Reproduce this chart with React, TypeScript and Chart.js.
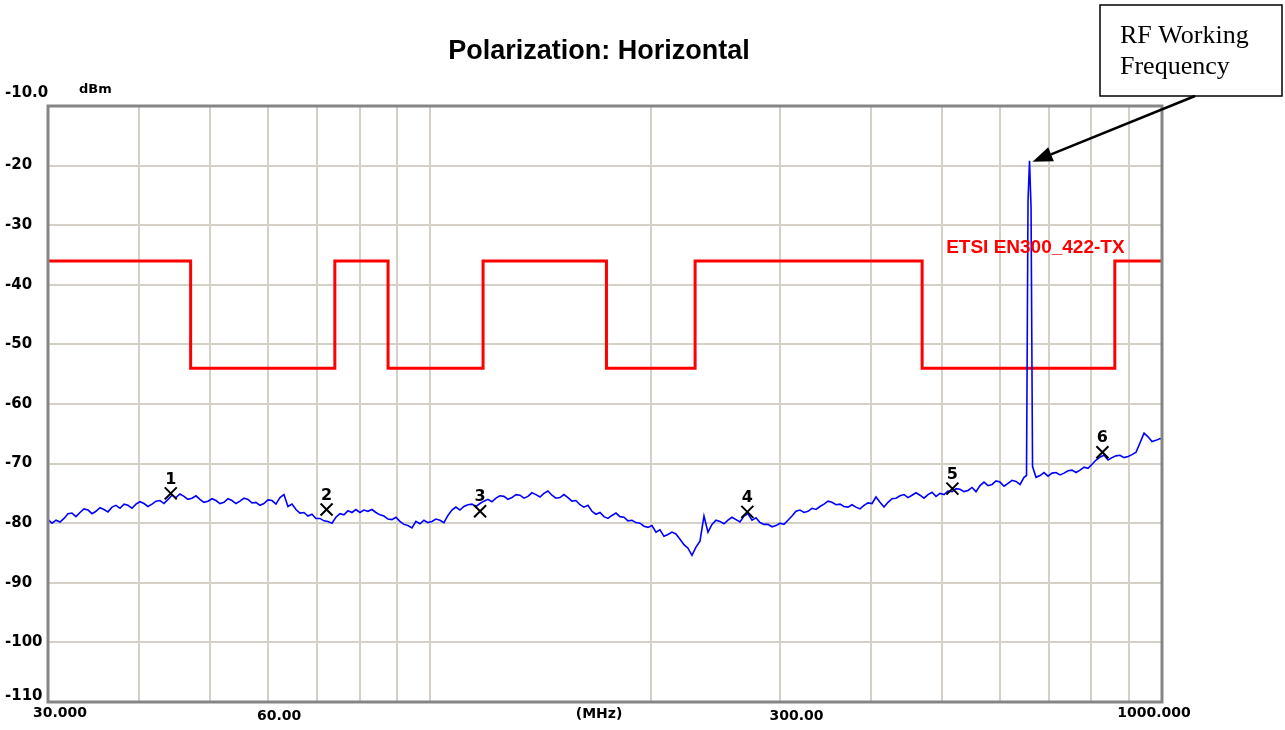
import { useEffect, useRef } from "react";
import { Chart, registerables } from "chart.js";

Chart.register(...registerables);

// ---------------- data ----------------
const yTickValues = [-10, -20, -30, -40, -50, -60, -70, -80, -90, -100, -110];
const yTickLabels = ["-10.0", "-20", "-30", "-40", "-50", "-60", "-70", "-80", "-90", "-100", "-110"];

const xGridFreqs = [30, 40, 50, 60, 70, 80, 90, 100, 200, 300, 400, 500, 600, 700, 800, 900, 1000];
const xLabelTexts = ["30.000", "60.00", "(MHz)", "300.00", "1000.000"];
const xLabelFreqs = [30, 60, 170, 300, 1000];

// ETSI EN300_422-TX limit (MHz, dBm)
const limitFreq = [30, 47, 47, 74, 74, 87.5, 87.5, 118, 118, 174, 174, 230, 230, 470, 470, 862, 862, 1000];
const limitLevel = [-36, -36, -54, -54, -36, -36, -54, -54, -36, -36, -54, -54, -36, -36, -54, -54, -36, -36];

// markers
const markerFreq = [44.15, 72.1, 116.9, 271.1, 517, 829];
const markerLevel = [-75.0, -77.7, -78.0, -78.1, -74.2, -68.1];
const markerNames = ["1", "2", "3", "4", "5", "6"];

// RF working frequency peak
const rfFreq = 659.0;
const rfLevel = -19.2;

// measured trace [MHz, dBm]
const trace: [number, number][] = [
  [30.00, -79.4], [30.38, -80.0], [30.77, -79.5], [31.16, -79.8], [31.55, -79.2], [31.95, -78.4],
  [32.35, -78.3], [32.76, -78.9], [33.18, -78.2], [33.60, -77.6], [34.03, -77.8], [34.46, -78.4],
  [34.89, -78.0], [35.33, -77.4], [35.78, -77.7], [36.23, -78.1], [36.70, -77.3], [37.16, -77.0],
  [37.63, -77.5], [38.11, -76.8], [38.59, -77.0], [39.08, -77.5], [39.57, -76.8], [40.07, -76.4],
  [40.58, -76.7], [41.09, -77.2], [41.62, -76.8], [42.15, -76.3], [42.68, -76.2], [43.22, -76.7],
  [43.77, -76.0], [44.32, -75.3], [44.88, -75.7], [45.45, -75.1], [46.03, -75.5], [46.61, -76.0],
  [47.20, -75.8], [47.80, -75.4], [48.40, -76.0], [49.01, -76.5], [49.64, -76.3], [50.27, -75.9],
  [50.90, -76.2], [51.55, -76.7], [52.20, -76.5], [52.86, -75.9], [53.53, -76.2], [54.21, -76.7],
  [54.90, -76.3], [55.60, -75.8], [56.30, -76.0], [57.01, -76.6], [57.73, -76.5], [58.46, -77.0],
  [59.20, -76.7], [59.95, -76.1], [60.71, -76.2], [61.48, -76.8], [62.26, -75.7], [63.05, -75.2],
  [63.85, -77.2], [64.66, -76.8], [65.48, -77.7], [66.31, -78.3], [67.15, -78.2], [68.00, -78.8],
  [68.86, -78.5], [69.73, -79.2], [70.61, -79.2], [71.51, -79.6], [72.41, -79.7], [73.33, -80.0],
  [74.26, -79.0], [75.20, -78.4], [76.15, -78.6], [77.12, -77.9], [78.09, -78.2], [79.08, -77.7],
  [80.08, -78.2], [81.09, -77.8], [82.12, -78.0], [83.16, -77.7], [84.22, -78.2], [85.29, -78.6],
  [86.37, -78.8], [87.46, -79.3], [88.57, -79.4], [89.69, -79.0], [90.83, -79.7], [91.98, -80.2],
  [93.15, -80.4], [94.33, -80.8], [95.52, -79.7], [96.73, -80.1], [97.96, -79.5], [99.20, -79.9],
  [100.45, -79.7], [101.72, -79.3], [103.02, -79.5], [104.33, -79.9], [105.64, -78.7], [106.98, -77.8],
  [108.34, -77.3], [109.71, -77.8], [111.10, -77.2], [112.51, -76.9], [113.94, -76.8], [115.38, -77.2],
  [116.84, -76.7], [118.32, -76.3], [119.82, -76.0], [121.34, -76.4], [122.88, -75.8], [124.44, -75.4],
  [126.01, -75.5], [127.61, -76.0], [129.23, -75.7], [130.87, -75.2], [132.52, -75.3], [134.20, -75.8],
  [135.90, -75.5], [137.62, -74.9], [139.37, -75.2], [141.14, -75.6], [142.92, -75.0], [144.73, -74.6],
  [146.57, -75.3], [148.43, -75.8], [150.31, -75.7], [152.21, -75.2], [154.14, -75.7], [156.09, -76.3],
  [158.07, -76.2], [160.07, -76.9], [162.10, -77.3], [164.15, -77.0], [166.24, -78.0], [168.35, -78.5],
  [170.48, -78.2], [172.64, -78.9], [174.83, -79.2], [177.05, -78.7], [179.29, -78.3], [181.56, -78.9],
  [183.86, -79.0], [186.19, -79.6], [188.55, -79.5], [190.94, -79.9], [193.36, -80.0], [195.81, -80.5],
  [198.29, -80.7], [200.80, -80.4], [203.35, -81.5], [205.93, -81.1], [208.53, -82.2], [211.17, -81.9],
  [213.85, -81.5], [216.56, -81.8], [219.31, -82.7], [222.09, -83.6], [224.90, -84.2], [227.75, -85.4],
  [230.64, -84.0], [233.56, -83.0], [236.52, -78.8], [239.52, -81.5], [242.55, -80.2], [245.62, -79.5],
  [248.74, -79.7], [251.89, -80.1], [255.08, -79.5], [258.31, -79.0], [261.59, -79.4], [264.90, -79.8],
  [268.26, -78.8], [271.66, -78.4], [275.10, -79.5], [278.59, -79.1], [282.12, -79.9], [285.69, -80.2],
  [289.32, -80.2], [292.99, -80.6], [296.70, -80.4], [300.46, -80.0], [304.26, -80.2], [308.11, -79.5],
  [312.02, -78.8], [315.97, -78.0], [319.98, -77.8], [324.04, -78.2], [328.14, -78.0], [332.30, -77.5],
  [336.51, -77.7], [340.77, -77.2], [345.10, -76.8], [349.47, -76.3], [353.90, -76.5], [358.38, -76.9],
  [362.92, -76.8], [367.52, -77.2], [372.18, -77.3], [376.90, -76.9], [381.67, -77.3], [386.51, -77.6],
  [391.41, -77.0], [396.37, -76.6], [401.39, -76.7], [406.48, -75.6], [411.63, -76.5], [416.85, -77.3],
  [422.13, -76.5], [427.48, -75.9], [432.90, -75.8], [438.38, -75.4], [443.94, -75.2], [449.56, -75.7],
  [455.26, -75.3], [461.03, -74.9], [466.87, -75.3], [472.78, -75.8], [478.78, -75.2], [484.85, -74.8],
  [490.99, -75.5], [497.21, -75.0], [503.51, -75.2], [509.89, -74.6], [516.35, -74.7], [522.89, -74.2],
  [529.52, -74.3], [536.23, -74.7], [543.03, -74.5], [549.91, -74.0], [556.88, -74.7], [563.93, -73.7],
  [571.08, -73.1], [578.32, -73.7], [585.65, -73.5], [593.07, -72.9], [600.58, -73.1], [608.19, -73.8],
  [615.90, -73.3], [623.70, -72.8], [631.61, -73.0], [639.61, -73.5], [647.72, -72.3], [652.8, -72.0],
  [655.9, -26.0], [659.0, -19.2], [662.2, -27.0], [665.3, -70.5], [672.66, -72.3], [681.18, -72.0],
  [689.81, -71.5], [698.55, -72.1], [707.40, -71.6], [716.37, -71.5], [725.45, -71.9], [734.64, -71.6],
  [743.95, -71.2], [753.38, -71.1], [762.92, -71.5], [772.59, -71.1], [782.38, -70.6], [792.30, -70.8],
  [802.34, -70.1], [812.51, -69.4], [822.80, -68.9], [833.23, -68.6], [843.79, -69.4], [854.48, -69.0],
  [865.30, -68.7], [876.27, -68.6], [887.37, -69.0], [898.62, -68.8], [910.00, -68.5], [921.54, -68.1],
  [933.22, -66.5], [945.04, -64.9], [957.02, -65.5], [969.14, -66.3], [981.42, -66.1], [993.86, -65.8],
  [1000, -65.9],
];

// ---------------- drawing ----------------
const overlay = {
  id: "overlay",
  afterDraw(chart: any) {
    const { ctx, chartArea: a, scales } = chart;
    const xs = scales.x;
    const ys = scales.y;
    ctx.save();

    // plot border
    ctx.strokeStyle = "#858585";
    ctx.lineWidth = 3;
    ctx.strokeRect(a.left, a.top, a.right - a.left, a.bottom - a.top);

    // y tick labels
    ctx.fillStyle = "#000";
    ctx.font = "bold 15px 'DejaVu Sans'";
    ctx.textAlign = "left";
    ctx.textBaseline = "middle";
    yTickValues.forEach((v, i) => {
      let py = ys.getPixelForValue(v);
      if (i === 0) py -= 13;
      else if (i === yTickValues.length - 1) py -= 6;
      ctx.fillText(yTickLabels[i], 5, py);
    });

    // unit label
    ctx.font = "bold 13px 'DejaVu Sans'";
    ctx.fillText("dBm", 79, a.top - 16);

    // x labels
    const xOffsets = [12, 11, 0, 17, -8];
    const yOffsets = [11, 14, 12, 14, 11];
    ctx.font = "bold 14px 'DejaVu Sans'";
    ctx.textAlign = "center";
    xLabelTexts.forEach((t, i) => {
      const px = xs.getPixelForValue(xLabelFreqs[i]) + xOffsets[i];
      ctx.fillText(t, px, a.bottom + yOffsets[i]);
    });

    // title
    ctx.font = "bold 27px 'Liberation Sans', Arial, sans-serif";
    ctx.fillText("Polarization: Horizontal", 599, 52);

    // limit label
    ctx.fillStyle = "#ff0000";
    ctx.font = "bold 19px 'Liberation Sans', Arial, sans-serif";
    ctx.textAlign = "left";
    ctx.fillText("ETSI EN300_422-TX", xs.getPixelForValue(470) + 24, ys.getPixelForValue(-36) - 13);

    // marker numbers
    ctx.fillStyle = "#000";
    ctx.font = "bold 16px 'DejaVu Sans'";
    ctx.textAlign = "center";
    markerFreq.forEach((f, i) => {
      ctx.fillText(markerNames[i], xs.getPixelForValue(f), ys.getPixelForValue(markerLevel[i]) - 14);
    });

    // annotation box
    ctx.fillStyle = "#fff";
    ctx.fillRect(1100, 5, 182, 91);
    ctx.strokeStyle = "#000";
    ctx.lineWidth = 1.5;
    ctx.strokeRect(1100, 5, 182, 91);
    ctx.fillStyle = "#000";
    ctx.font = "26px 'Liberation Serif', 'Times New Roman', serif";
    ctx.textAlign = "left";
    ctx.textBaseline = "alphabetic";
    ctx.fillText("RF Working", 1120, 43);
    ctx.fillText("Frequency", 1120, 74);

    // arrow to the RF peak
    const tx = xs.getPixelForValue(rfFreq) + 3;
    const ty = ys.getPixelForValue(rfLevel) + 1;
    const sx = 1195;
    const sy = 96;
    const ang = Math.atan2(ty - sy, tx - sx);
    const head = 20;
    const half = 7.5;
    const bx = tx - head * Math.cos(ang);
    const by = ty - head * Math.sin(ang);
    ctx.strokeStyle = "#000";
    ctx.lineWidth = 2.5;
    ctx.beginPath();
    ctx.moveTo(sx, sy);
    ctx.lineTo(bx, by);
    ctx.stroke();
    ctx.beginPath();
    ctx.moveTo(tx, ty);
    ctx.lineTo(bx + half * Math.sin(ang), by - half * Math.cos(ang));
    ctx.lineTo(bx - half * Math.sin(ang), by + half * Math.cos(ang));
    ctx.closePath();
    ctx.fill();

    ctx.restore();
  },
};

export default function App() {
  const ref = useRef<HTMLCanvasElement>(null);

  useEffect(() => {
    document.body.style.margin = "0";
    const canvas = ref.current;
    if (!canvas) return;
    const chart = new Chart(canvas, {
      type: "line",
      data: {
        datasets: [
          {
            label: "markers",
            data: markerFreq.map((f, i) => ({ x: f, y: markerLevel[i] })),
            showLine: false,
            pointStyle: "crossRot",
            pointRadius: 8.5,
            pointBorderWidth: 2,
            borderColor: "#000",
            backgroundColor: "#000",
            order: 1,
          },
          {
            label: "trace",
            data: trace.map(([f, l]) => ({ x: f, y: l })),
            borderColor: "#0000ff",
            borderWidth: 1.6,
            pointRadius: 0,
            tension: 0,
            order: 2,
          },
          {
            label: "ETSI EN300_422-TX",
            data: limitFreq.map((f, i) => ({ x: f, y: limitLevel[i] })),
            borderColor: "#ff0000",
            borderWidth: 3,
            pointRadius: 0,
            tension: 0,
            order: 3,
          },
        ],
      },
      options: {
        animation: false,
        responsive: false,
        devicePixelRatio: 1,
        layout: { padding: { left: 48, right: 123, top: 106, bottom: 28 } },
        plugins: {
          legend: { display: false },
          tooltip: { enabled: false },
          title: { display: false },
        },
        scales: {
          x: {
            type: "logarithmic",
            min: 30,
            max: 1000,
            afterBuildTicks: (s: any) => {
              s.ticks = xGridFreqs.map((v) => ({ value: v }));
            },
            ticks: { display: false },
            grid: { color: "#d4d0c8", lineWidth: 2, drawTicks: false },
            border: { display: false },
          },
          y: {
            type: "linear",
            min: -110,
            max: -10,
            afterBuildTicks: (s: any) => {
              s.ticks = yTickValues.map((v) => ({ value: v }));
            },
            ticks: { display: false },
            grid: { color: "#d4d0c8", lineWidth: 2, drawTicks: false },
            border: { display: false },
          },
        },
      },
      plugins: [overlay],
    } as any);
    return () => chart.destroy();
  }, []);

  return (
    <div style={{ width: 1285, height: 730, position: "relative" }}>
      <canvas ref={ref} width={1285} height={730} style={{ display: "block", width: 1285, height: 730 }} />
    </div>
  );
}
